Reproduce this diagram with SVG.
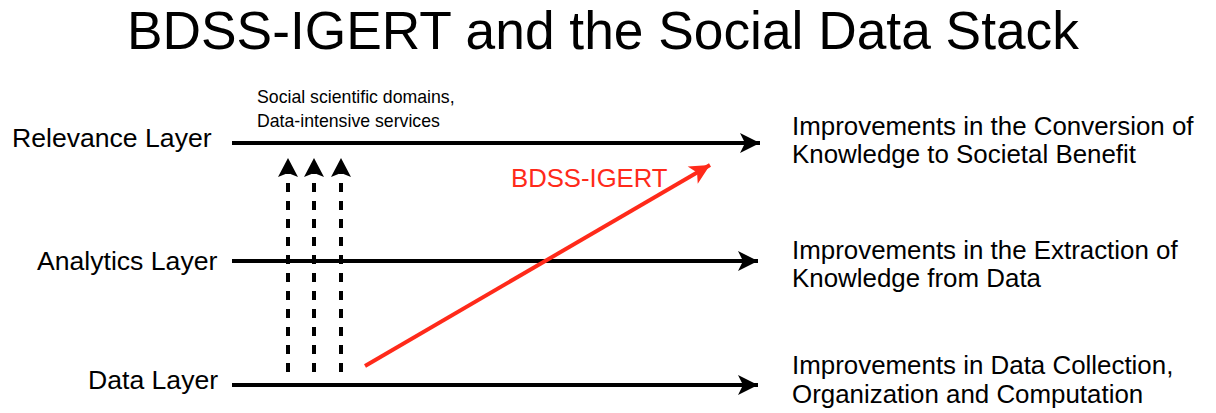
<svg xmlns="http://www.w3.org/2000/svg" width="1216" height="413" viewBox="0 0 1216 413">
<style>
text{font-family:"Liberation Sans",Arial,Helvetica,sans-serif;fill:#000}
.title{font-size:53.3px}
.lbl{font-size:26.6px}
.rt{font-size:25.9px}
.small{font-size:17.7px}
.red{fill:#ff2a1a;font-size:25.7px}
.axis{stroke:#000;stroke-width:4;fill:none}
.dot{stroke:#000;stroke-width:4;stroke-dasharray:9 9;fill:none}
.redline{stroke:#ff2a1a;stroke-width:4;fill:none}
</style>
<defs>
<marker id="ah" markerUnits="userSpaceOnUse" markerWidth="24" markerHeight="24" viewBox="0 0 24 24" refX="22" refY="12" orient="auto">
<path d="M2,2 L22,12 L2,22 L7,12 Z" fill="#000"/>
</marker>
<marker id="ahs" markerUnits="userSpaceOnUse" markerWidth="24" markerHeight="24" viewBox="0 0 24 24" refX="21" refY="12" orient="auto">
<path d="M2,2 L21,12 L2,22 L6,12 Z" fill="#000"/>
</marker>
<marker id="ahr" markerUnits="userSpaceOnUse" markerWidth="24" markerHeight="24" viewBox="0 0 24 24" refX="22" refY="12" orient="auto">
<path d="M2,2 L22,12 L2,22 L7,12 Z" fill="#ff2a1a"/>
</marker>
</defs>
<text class="title" x="127" y="49">BDSS-IGERT and the Social Data Stack</text>
<g id="relevance">
<text class="lbl" x="12" y="147">Relevance Layer</text>
<text class="rt" x="792" y="135">Improvements in the Conversion of</text>
<text class="rt" x="792" y="163">Knowledge to Societal Benefit</text>
</g>
<g id="analytics">
<text class="lbl" x="37" y="270">Analytics Layer</text>
<text class="rt" x="792" y="259">Improvements in the Extraction of</text>
<text class="rt" x="792" y="287">Knowledge from Data</text>
</g>
<g id="data">
<text class="lbl" x="88" y="389">Data Layer</text>
<text class="rt" x="792" y="374">Improvements in Data Collection,</text>
<text class="rt" x="792" y="403">Organization and Computation</text>
</g>
<g id="domains">
<text class="small" x="257" y="103">Social scientific domains,</text>
<text class="small" x="257" y="127">Data-intensive services</text>
</g>
<g id="bdss">
<text class="red" x="511" y="187">BDSS-IGERT</text>
</g>
<g id="connectors">
<line class="axis" x1="232" y1="143" x2="760" y2="143" marker-end="url(#ah)"/>
<line class="axis" x1="232" y1="261" x2="758" y2="261" marker-end="url(#ah)"/>
<line class="axis" x1="232" y1="385" x2="758" y2="385" marker-end="url(#ah)"/>
<line class="dot" x1="288" y1="372" x2="288" y2="158" marker-end="url(#ahs)"/>
<line class="dot" x1="314" y1="372" x2="314" y2="158" marker-end="url(#ahs)"/>
<line class="dot" x1="341" y1="372" x2="341" y2="158" marker-end="url(#ahs)"/>
<line class="redline" x1="365" y1="366" x2="710" y2="165" marker-end="url(#ahr)"/>
</g>
</svg>
